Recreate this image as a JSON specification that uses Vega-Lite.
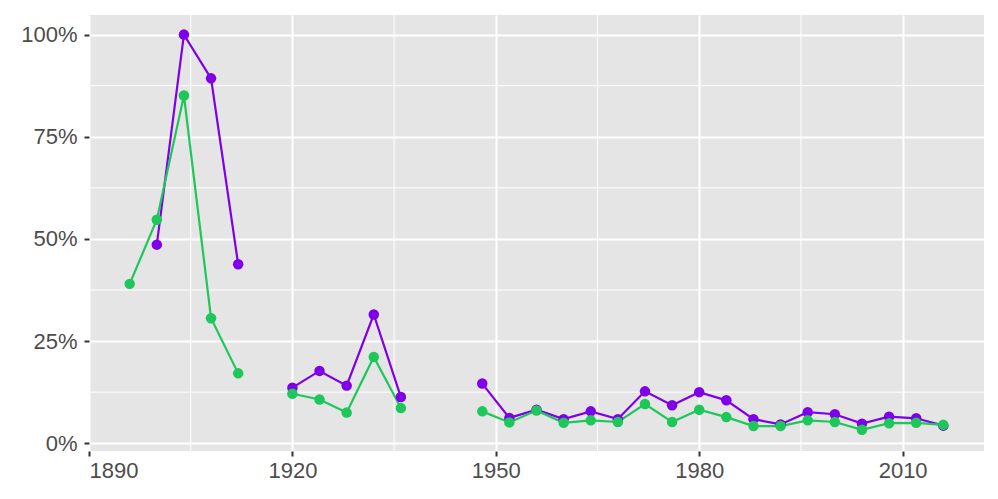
{
  "$schema": "https://vega.github.io/schema/vega-lite/v6.json",
  "width": 895,
  "height": 436,
  "autosize": "none",
  "padding": {"left": 89, "top": 15, "right": 14, "bottom": 48},
  "background": "white",
  "config": {
    "view": {"fill": "#E5E5E5", "stroke": null},
    "font": "Liberation Sans",
    "axis": {
      "grid": true,
      "gridColor": "white",
      "gridWidth": 2,
      "domain": false,
      "ticks": true,
      "tickColor": "#333333",
      "tickSize": 5,
      "tickWidth": 2,
      "labelFont": "Liberation Sans",
      "labelFontSize": 22,
      "labelColor": "#4D4D4D",
      "labelPadding": 4,
      "title": null
    },
    "axisY": {"labelPadding": 7}
  },
  "datasets": {
    "olympics": [
      {"year": 1900, "series": "s1", "period": "p1", "value": 0.486},
      {"year": 1904, "series": "s1", "period": "p1", "value": 1.0},
      {"year": 1908, "series": "s1", "period": "p1", "value": 0.893},
      {"year": 1912, "series": "s1", "period": "p1", "value": 0.438},
      {"year": 1920, "series": "s1", "period": "p2", "value": 0.136},
      {"year": 1924, "series": "s1", "period": "p2", "value": 0.177},
      {"year": 1928, "series": "s1", "period": "p2", "value": 0.141},
      {"year": 1932, "series": "s1", "period": "p2", "value": 0.315},
      {"year": 1936, "series": "s1", "period": "p2", "value": 0.113},
      {"year": 1948, "series": "s1", "period": "p3", "value": 0.146},
      {"year": 1952, "series": "s1", "period": "p3", "value": 0.062},
      {"year": 1956, "series": "s1", "period": "p3", "value": 0.082},
      {"year": 1960, "series": "s1", "period": "p3", "value": 0.059},
      {"year": 1964, "series": "s1", "period": "p3", "value": 0.078},
      {"year": 1968, "series": "s1", "period": "p3", "value": 0.059},
      {"year": 1972, "series": "s1", "period": "p3", "value": 0.127},
      {"year": 1976, "series": "s1", "period": "p3", "value": 0.093},
      {"year": 1980, "series": "s1", "period": "p3", "value": 0.125},
      {"year": 1984, "series": "s1", "period": "p3", "value": 0.105},
      {"year": 1988, "series": "s1", "period": "p3", "value": 0.059},
      {"year": 1992, "series": "s1", "period": "p3", "value": 0.046},
      {"year": 1996, "series": "s1", "period": "p3", "value": 0.076},
      {"year": 2000, "series": "s1", "period": "p3", "value": 0.071},
      {"year": 2004, "series": "s1", "period": "p3", "value": 0.048},
      {"year": 2008, "series": "s1", "period": "p3", "value": 0.065},
      {"year": 2012, "series": "s1", "period": "p3", "value": 0.061},
      {"year": 2016, "series": "s1", "period": "p3", "value": 0.043},
      {"year": 1896, "series": "s2", "period": "p1", "value": 0.39},
      {"year": 1900, "series": "s2", "period": "p1", "value": 0.547},
      {"year": 1904, "series": "s2", "period": "p1", "value": 0.851},
      {"year": 1908, "series": "s2", "period": "p1", "value": 0.306},
      {"year": 1912, "series": "s2", "period": "p1", "value": 0.171},
      {"year": 1920, "series": "s2", "period": "p2", "value": 0.121},
      {"year": 1924, "series": "s2", "period": "p2", "value": 0.107},
      {"year": 1928, "series": "s2", "period": "p2", "value": 0.075},
      {"year": 1932, "series": "s2", "period": "p2", "value": 0.211},
      {"year": 1936, "series": "s2", "period": "p2", "value": 0.086},
      {"year": 1948, "series": "s2", "period": "p3", "value": 0.078},
      {"year": 1952, "series": "s2", "period": "p3", "value": 0.051},
      {"year": 1956, "series": "s2", "period": "p3", "value": 0.08},
      {"year": 1960, "series": "s2", "period": "p3", "value": 0.05},
      {"year": 1964, "series": "s2", "period": "p3", "value": 0.056},
      {"year": 1968, "series": "s2", "period": "p3", "value": 0.052},
      {"year": 1972, "series": "s2", "period": "p3", "value": 0.096},
      {"year": 1976, "series": "s2", "period": "p3", "value": 0.052},
      {"year": 1980, "series": "s2", "period": "p3", "value": 0.082},
      {"year": 1984, "series": "s2", "period": "p3", "value": 0.064},
      {"year": 1988, "series": "s2", "period": "p3", "value": 0.042},
      {"year": 1992, "series": "s2", "period": "p3", "value": 0.042},
      {"year": 1996, "series": "s2", "period": "p3", "value": 0.056},
      {"year": 2000, "series": "s2", "period": "p3", "value": 0.052},
      {"year": 2004, "series": "s2", "period": "p3", "value": 0.033},
      {"year": 2008, "series": "s2", "period": "p3", "value": 0.049},
      {"year": 2012, "series": "s2", "period": "p3", "value": 0.05},
      {"year": 2016, "series": "s2", "period": "p3", "value": 0.045}
    ],
    "minorX": [{"v": 1905}, {"v": 1935}, {"v": 1965}, {"v": 1995}],
    "minorY": [{"v": 0.125}, {"v": 0.375}, {"v": 0.625}, {"v": 0.875}]
  },
  "layer": [
    {
      "data": {"name": "minorX"},
      "mark": {"type": "rule", "color": "white", "strokeWidth": 1},
      "encoding": {
        "x": {"field": "v", "type": "quantitative"}
      }
    },
    {
      "data": {"name": "minorY"},
      "mark": {"type": "rule", "color": "white", "strokeWidth": 1},
      "encoding": {
        "y": {"field": "v", "type": "quantitative"}
      }
    },
    {
      "data": {"name": "olympics"},
      "mark": {"type": "line", "strokeWidth": 2.2},
      "encoding": {
        "x": {"field": "year", "type": "quantitative"},
        "y": {"field": "value", "type": "quantitative"},
        "color": {"field": "series", "type": "nominal", "legend": null},
        "detail": {"field": "period", "type": "nominal"},
        "order": {"field": "year", "type": "quantitative"}
      }
    },
    {
      "data": {"name": "olympics"},
      "mark": {"type": "point", "filled": true, "opacity": 1, "size": 110},
      "encoding": {
        "x": {
          "field": "year",
          "type": "quantitative",
          "scale": {"domain": [1890, 2022], "nice": false, "zero": false},
          "axis": {"values": [1890, 1920, 1950, 1980, 2010], "format": "d"}
        },
        "y": {
          "field": "value",
          "type": "quantitative",
          "scale": {"domain": [-0.019, 1.048], "nice": false, "zero": false},
          "axis": {"values": [0, 0.25, 0.5, 0.75, 1], "format": ".0%"}
        },
        "color": {
          "field": "series",
          "type": "nominal",
          "legend": null,
          "scale": {"domain": ["s1", "s2"], "range": ["#7F00E8", "#1EC75A"]}
        }
      }
    }
  ]
}
